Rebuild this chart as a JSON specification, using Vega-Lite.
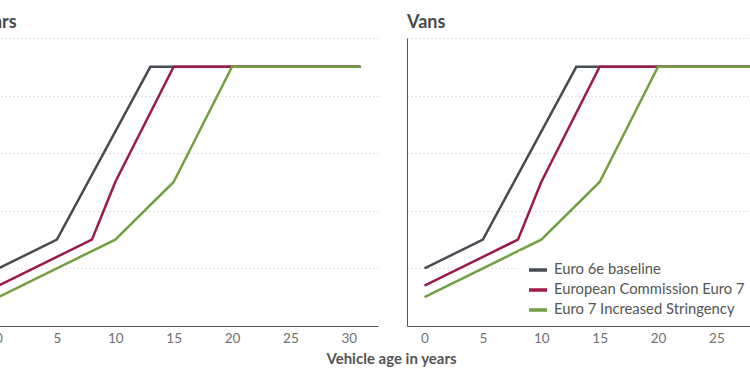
{
  "$schema": "https://vega.github.io/schema/vega-lite/v6.json",
  "autosize": {"type": "none"},
  "padding": {"left": -19, "top": 38, "right": 769, "bottom": 337},
  "background": "white",
  "bounds": "flush",
  "spacing": 29,
  "config": {
    "font": "Lato",
    "view": {"stroke": null},
    "title": {"anchor": "start", "fontSize": 18, "fontWeight": "bold", "color": "#4a4a4a", "offset": 6},
    "axis": {"labelFont": "Lato", "titleFont": "Lato"}
  },
  "data": {"values": [
    {"panel": "Cars", "series": "Euro 6e baseline", "age": 0, "value": 1.0},
    {"panel": "Cars", "series": "Euro 6e baseline", "age": 5, "value": 1.5},
    {"panel": "Cars", "series": "Euro 6e baseline", "age": 13, "value": 4.5},
    {"panel": "Cars", "series": "Euro 6e baseline", "age": 31, "value": 4.5},
    {"panel": "Cars", "series": "European Commission Euro 7", "age": 0, "value": 0.7},
    {"panel": "Cars", "series": "European Commission Euro 7", "age": 8, "value": 1.5},
    {"panel": "Cars", "series": "European Commission Euro 7", "age": 10, "value": 2.5},
    {"panel": "Cars", "series": "European Commission Euro 7", "age": 15, "value": 4.5},
    {"panel": "Cars", "series": "European Commission Euro 7", "age": 31, "value": 4.5},
    {"panel": "Cars", "series": "Euro 7 Increased Stringency", "age": 0, "value": 0.5},
    {"panel": "Cars", "series": "Euro 7 Increased Stringency", "age": 10, "value": 1.5},
    {"panel": "Cars", "series": "Euro 7 Increased Stringency", "age": 15, "value": 2.5},
    {"panel": "Cars", "series": "Euro 7 Increased Stringency", "age": 20, "value": 4.5},
    {"panel": "Cars", "series": "Euro 7 Increased Stringency", "age": 31, "value": 4.5},
    {"panel": "Vans", "series": "Euro 6e baseline", "age": 0, "value": 1.0},
    {"panel": "Vans", "series": "Euro 6e baseline", "age": 5, "value": 1.5},
    {"panel": "Vans", "series": "Euro 6e baseline", "age": 13, "value": 4.5},
    {"panel": "Vans", "series": "Euro 6e baseline", "age": 31, "value": 4.5},
    {"panel": "Vans", "series": "European Commission Euro 7", "age": 0, "value": 0.7},
    {"panel": "Vans", "series": "European Commission Euro 7", "age": 8, "value": 1.5},
    {"panel": "Vans", "series": "European Commission Euro 7", "age": 10, "value": 2.5},
    {"panel": "Vans", "series": "European Commission Euro 7", "age": 15, "value": 4.5},
    {"panel": "Vans", "series": "European Commission Euro 7", "age": 31, "value": 4.5},
    {"panel": "Vans", "series": "Euro 7 Increased Stringency", "age": 0, "value": 0.5},
    {"panel": "Vans", "series": "Euro 7 Increased Stringency", "age": 10, "value": 1.5},
    {"panel": "Vans", "series": "Euro 7 Increased Stringency", "age": 15, "value": 2.5},
    {"panel": "Vans", "series": "Euro 7 Increased Stringency", "age": 20, "value": 4.5},
    {"panel": "Vans", "series": "Euro 7 Increased Stringency", "age": 31, "value": 4.5}
  ]},
  "resolve": {"legend": {"color": "independent"}},
  "hconcat": [
    {
      "title": "Cars",
      "width": 397,
      "height": 288,
      "transform": [{"filter": "datum.panel === 'Cars'"}],
      "mark": {"type": "line", "strokeWidth": 2.5, "clip": true},
      "encoding": {
        "x": {"field": "age", "type": "quantitative",
              "scale": {"domain": [-1.5, 32.5], "nice": false, "zero": false},
              "axis": {"values": [0, 5, 10, 15, 20, 25, 30], "grid": false, "ticks": false,
                       "labelPadding": 5, "labelFontSize": 13.5, "labelColor": "#707070",
                       "domainColor": "#555555", "domainWidth": 1,
                       "title": "Vehicle age in years", "titleFontSize": 15, "titleFontWeight": "bold",
                       "titleColor": "#555555", "titleX": 410, "titleY": 32, "titleAlign": "center",
                       "titleBaseline": "middle"}},
        "y": {"field": "value", "type": "quantitative",
              "scale": {"domain": [0, 5], "nice": false},
              "axis": {"values": [1, 2, 3, 4, 5], "labels": false, "ticks": false, "domain": false,
                       "title": null, "grid": true, "gridDash": [1, 3], "gridColor": "#c4c4c4", "gridWidth": 1}},
        "color": {"field": "series", "type": "nominal", "legend": null,
                  "scale": {"domain": ["Euro 6e baseline", "European Commission Euro 7", "Euro 7 Increased Stringency"],
                            "range": ["#474c52", "#9c1a4a", "#72a043"]}}
      }
    },
    {
      "title": "Vans",
      "width": 343,
      "height": 288,
      "transform": [{"filter": "datum.panel === 'Vans'"}],
      "mark": {"type": "line", "strokeWidth": 2.5, "clip": true},
      "encoding": {
        "x": {"field": "age", "type": "quantitative",
              "scale": {"domain": [-1.5, 27.876], "nice": false, "zero": false},
              "axis": {"values": [0, 5, 10, 15, 20, 25], "grid": false, "ticks": false,
                       "labelPadding": 5, "labelFontSize": 13.5, "labelColor": "#707070",
                       "domainColor": "#555555", "domainWidth": 1, "title": null}},
        "y": {"field": "value", "type": "quantitative",
              "scale": {"domain": [0, 5], "nice": false},
              "axis": {"values": [1, 2, 3, 4, 5], "labels": false, "ticks": false, "domain": true,
                       "domainColor": "#555555", "domainWidth": 1,
                       "title": null, "grid": true, "gridDash": [1, 3], "gridColor": "#c4c4c4", "gridWidth": 1}},
        "color": {"field": "series", "type": "nominal",
                  "scale": {"domain": ["Euro 6e baseline", "European Commission Euro 7", "Euro 7 Increased Stringency"],
                            "range": ["#474c52", "#9c1a4a", "#72a043"]},
                  "legend": {"orient": "none", "legendX": 112, "legendY": 213, "title": null,
                             "symbolType": "stroke", "symbolSize": 324, "symbolStrokeWidth": 3.5,
                             "labelFontSize": 14.8, "labelColor": "#555555", "labelLimit": 300,
                             "labelOffset": 5, "rowPadding": 2, "padding": 8, "fillColor": "white"}}
      }
    }
  ]
}
